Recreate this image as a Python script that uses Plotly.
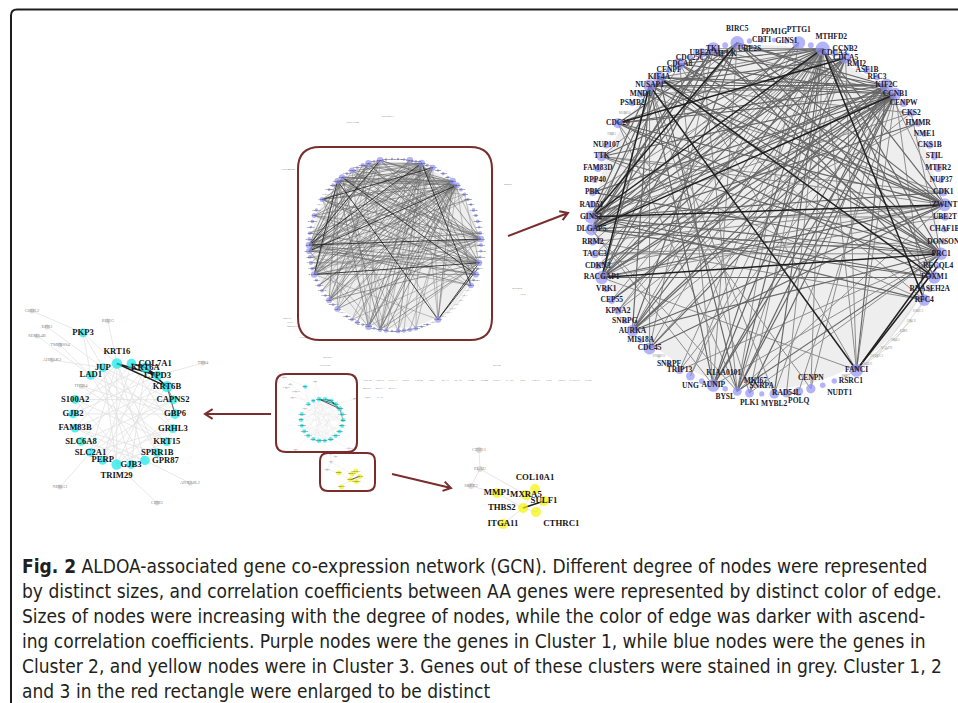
import math
import plotly.graph_objects as go

W, H = 958, 703

# ---------------------------------------------------------------- data
# Cluster 1 ring, clockwise starting at BIRC5
c1_genes = [
    "BIRC5", "UBE2S", "CDT1", "PPM1G", "GINS1", "PTTG1", "MTHFD2", "CCNB2", "CDCA3", "CDCA5",
    "RMI2", "ASF1B", "RFC3", "KIF2C", "CCNB1", "CENPW", "CKS2", "HMMR", "NME1", "CKS1B",
    "STIL", "MTFR2", "NUP37", "CDK1", "ZWINT", "UBE2T", "CHAF1B", "DONSON", "PRC1", "RECQL4",
    "FOXM1", "RNASEH2A", "RFC4", "DSCC1", "ORC6", "E2F8", "SKA1", "NCAPH", "DEPDC1", "ESCO2",
    "FANCI", "SKP2", "RSRC1", "NUDT1", "CENPN", "POLQ", "RAD54L", "MYBL2", "SNRPA", "PLK1",
    "MKI67", "BYSL", "AUNIP", "KIAA0101", "UNG", "TRIP13", "SNRPF", "SNRPD1", "CDC45", "MIS18A",
    "AURKA", "SNRPG", "KPNA2", "CEP55", "VRK1", "RACGAP1", "CDKN3", "TACC3", "RRM2", "DLGAP5",
    "GINS2", "RAD51", "PBK", "RPP40", "FAM83D", "TTK", "NUP107", "NEK2", "CDC20", "MCM10",
    "PSMB2", "MND1", "NUSAP1", "KIF4A", "CENPF", "CDCA8", "CDC25C", "UBE2C", "TK1", "MELK",
]
c1_degree = [
    32, 4, 4, 3, 4, 30, 6, 34, 10, 26,
    4, 10, 6, 32, 28, 12, 12, 10, 6, 12,
    10, 12, 6, 14, 30, 12, 8, 6, 28, 6,
    28, 6, 26, 1, 1, 1, 1, 1, 1, 1,
    30, 1, 5, 5, 18, 16, 16, 18, 4, 16,
    16, 5, 30, 6, 16, 12, 5, 1, 26, 6,
    26, 5, 12, 12, 8, 30, 12, 14, 12, 28,
    30, 12, 12, 6, 12, 20, 10, 1, 20, 1,
    6, 12, 28, 28, 6, 26, 6, 18, 30, 6,
]
# ring members that are not in Cluster 1
c1_outside = ["DSCC1", "ORC6", "E2F8", "SKA1", "NCAPH", "DEPDC1", "ESCO2",
              "SKP2", "SNRPD1", "NEK2", "MCM10"]
# (gene, gene, correlation coefficient)
c1_edges = [
    ("CCNB2", "GINS2", 0.82), ("CCNB2", "DLGAP5", 0.74), ("CCNB2", "RACGAP1", 0.72), ("CCNB2", "TACC3", 0.66),
    ("CCNB2", "CDKN3", 0.71), ("CCNB2", "AURKA", 0.73), ("CCNB2", "CDC45", 0.70), ("CCNB2", "KPNA2", 0.64),
    ("CCNB2", "CEP55", 0.70), ("CCNB2", "MKI67", 0.72), ("CCNB2", "AUNIP", 0.74), ("CCNB2", "TRIP13", 0.68),
    ("CCNB2", "FANCI", 0.71), ("CCNB2", "PLK1", 0.69), ("CCNB2", "PRC1", 0.76), ("CCNB2", "ZWINT", 0.73),
    ("CCNB2", "FOXM1", 0.74), ("CCNB2", "RFC4", 0.83), ("CCNB2", "NUSAP1", 0.72), ("CCNB2", "KIF4A", 0.71),
    ("CCNB2", "TK1", 0.70), ("CCNB2", "CDC20", 0.75), ("CCNB2", "TTK", 0.72), ("CCNB2", "PBK", 0.71),
    ("CCNB2", "RRM2", 0.69), ("CCNB2", "CENPN", 0.68), ("CCNB2", "RAD54L", 0.70), ("CCNB2", "UBE2C", 0.73),
    ("CCNB2", "CDCA8", 0.74), ("CCNB2", "MYBL2", 0.72), ("CCNB2", "UNG", 0.67),
    ("PTTG1", "GINS2", 0.71), ("PTTG1", "RACGAP1", 0.70), ("PTTG1", "MKI67", 0.69), ("PTTG1", "DLGAP5", 0.72),
    ("PTTG1", "AURKA", 0.70),
    ("BIRC5", "GINS2", 0.84), ("BIRC5", "DLGAP5", 0.73), ("BIRC5", "CDC20", 0.75), ("BIRC5", "AURKA", 0.72),
    ("BIRC5", "PRC1", 0.74), ("BIRC5", "ZWINT", 0.73), ("BIRC5", "CCNB1", 0.72), ("BIRC5", "KIF2C", 0.76),
    ("BIRC5", "AUNIP", 0.71), ("BIRC5", "TTK", 0.70), ("BIRC5", "RACGAP1", 0.72),
    ("TK1", "RACGAP1", 0.74), ("TK1", "PRC1", 0.72), ("TK1", "FOXM1", 0.73), ("TK1", "CDC45", 0.71),
    ("TK1", "CCNB1", 0.70), ("TK1", "DLGAP5", 0.75), ("TK1", "GINS2", 0.74),
    ("UBE2C", "ZWINT", 0.72), ("UBE2C", "DLGAP5", 0.73), ("UBE2C", "MKI67", 0.70), ("UBE2C", "KIF2C", 0.74),
    ("CDCA8", "ZWINT", 0.73), ("CDCA8", "PRC1", 0.72), ("CDCA8", "CCNB1", 0.74), ("CDCA8", "GINS2", 0.71),
    ("CDCA8", "AUNIP", 0.70), ("CDCA8", "FANCI", 0.69),
    ("KIF4A", "CCNB1", 0.76), ("KIF4A", "KIF2C", 0.77), ("KIF4A", "ZWINT", 0.74), ("KIF4A", "PRC1", 0.73),
    ("KIF4A", "RFC4", 0.71), ("KIF4A", "MKI67", 0.72), ("KIF4A", "RACGAP1", 0.74), ("KIF4A", "DLGAP5", 0.75),
    ("KIF4A", "FOXM1", 0.84),
    ("NUSAP1", "CDCA5", 0.72), ("NUSAP1", "KIF2C", 0.74), ("NUSAP1", "CCNB1", 0.73), ("NUSAP1", "ZWINT", 0.76),
    ("NUSAP1", "PRC1", 0.74), ("NUSAP1", "FANCI", 0.85), ("NUSAP1", "GINS2", 0.73), ("NUSAP1", "AURKA", 0.72),
    ("NUSAP1", "CDC45", 0.71), ("NUSAP1", "AUNIP", 0.73), ("NUSAP1", "RACGAP1", 0.83), ("NUSAP1", "PLK1", 0.70),
    ("NUSAP1", "CKS2", 0.70), ("NUSAP1", "MYBL2", 0.69),
    ("MND1", "CDK1", 0.69), ("MND1", "KIF2C", 0.70),
    ("CDC20", "ZWINT", 0.74), ("CDC20", "PRC1", 0.73), ("CDC20", "KIF2C", 0.75), ("CDC20", "CCNB1", 0.77),
    ("CDC20", "FOXM1", 0.72), ("CDC20", "MKI67", 0.70), ("CDC20", "CENPN", 0.69), ("CDC20", "CDCA5", 0.82),
    ("TTK", "CCNB1", 0.73), ("TTK", "PRC1", 0.72), ("TTK", "ZWINT", 0.71), ("TTK", "RFC4", 0.70),
    ("TTK", "CDK1", 0.71),
    ("GINS2", "ZWINT", 0.81), ("GINS2", "PRC1", 0.76), ("GINS2", "KIF2C", 0.75), ("GINS2", "CCNB1", 0.74),
    ("GINS2", "CDK1", 0.72), ("GINS2", "FOXM1", 0.73), ("GINS2", "RFC4", 0.72), ("GINS2", "CKS2", 0.71),
    ("DLGAP5", "ZWINT", 0.74), ("DLGAP5", "PRC1", 0.73), ("DLGAP5", "FOXM1", 0.75), ("DLGAP5", "CCNB1", 0.82),
    ("DLGAP5", "KIF2C", 0.74), ("DLGAP5", "MKI67", 0.71), ("DLGAP5", "AUNIP", 0.70), ("DLGAP5", "HMMR", 0.72),
    ("RACGAP1", "PRC1", 0.88), ("RACGAP1", "ZWINT", 0.75), ("RACGAP1", "CCNB1", 0.73), ("RACGAP1", "KIF2C", 0.74),
    ("RACGAP1", "FOXM1", 0.72), ("RACGAP1", "UBE2T", 0.71), ("RACGAP1", "FANCI", 0.70),
    ("TACC3", "PRC1", 0.71), ("TACC3", "DONSON", 0.69), ("CDKN3", "CCNB1", 0.72), ("CDKN3", "ZWINT", 0.71),
    ("RRM2", "ZWINT", 0.70), ("RRM2", "RFC4", 0.71), ("PBK", "CCNB1", 0.73), ("PBK", "PRC1", 0.72),
    ("CEP55", "KIF2C", 0.72), ("CEP55", "CCNB1", 0.73), ("KPNA2", "CCNB1", 0.70), ("KPNA2", "CDCA5", 0.69),
    ("AURKA", "CCNB1", 0.75), ("AURKA", "KIF2C", 0.74), ("AURKA", "ZWINT", 0.73), ("AURKA", "PRC1", 0.72),
    ("AURKA", "CDCA5", 0.74), ("AURKA", "CKS2", 0.71),
    ("CDC45", "CCNB1", 0.73), ("CDC45", "ZWINT", 0.72), ("CDC45", "KIF2C", 0.71),
    ("TRIP13", "CCNB1", 0.71), ("TRIP13", "PRC1", 0.70),
    ("AUNIP", "KIF2C", 0.73), ("AUNIP", "CCNB1", 0.72), ("AUNIP", "PRC1", 0.71), ("AUNIP", "CDCA5", 0.74),
    ("MKI67", "KIF2C", 0.72), ("MKI67", "CCNB1", 0.73), ("MKI67", "PRC1", 0.72), ("MKI67", "CDCA5", 0.71),
    ("MKI67", "ZWINT", 0.70),
    ("PLK1", "CCNB1", 0.72), ("PLK1", "PRC1", 0.71),
    ("FANCI", "PRC1", 0.86), ("FANCI", "RECQL4", 0.80), ("FANCI", "CCNB1", 0.71), ("FANCI", "KIF2C", 0.72),
    ("FANCI", "CDCA5", 0.70),
    ("CENPN", "KIF2C", 0.70), ("POLQ", "CCNB1", 0.69), ("UNG", "CDCA5", 0.70), ("MYBL2", "KIF2C", 0.69),
    ("CDCA5", "GINS2", 0.74), ("CDCA5", "DLGAP5", 0.73), ("CDCA5", "RACGAP1", 0.75),
    ("KIF2C", "ZWINT", 0.68), ("CCNB1", "RFC4", 0.70), ("CKS2", "PRC1", 0.69), ("HMMR", "RACGAP1", 0.70),
    ("UBE2T", "GINS2", 0.70),
    # weak links of the genes sitting outside Cluster 1 on the ring
    ("DSCC1", "RFC4", 0.5), ("ORC6", "FANCI", 0.5), ("E2F8", "FANCI", 0.5), ("SKA1", "RFC4", 0.5),
    ("NCAPH", "FANCI", 0.5), ("DEPDC1", "FOXM1", 0.5), ("ESCO2", "FANCI", 0.5), ("SKP2", "FANCI", 0.5),
]

# Cluster 2 ring, clockwise starting at KRT16
c2_genes = ["KRT16", "COL7A1", "KRT6A", "LYPD3", "KRT6B", "CAPNS2", "GBP6", "GRHL3", "KRT15", "SPRR1B",
            "GPR87", "GJB3", "TRIM29", "PERP", "SLC2A1", "SLC6A8", "FAM83B", "GJB2", "S100A2", "ITGB4",
            "LAD1", "JUP"]
c2_degree = [8, 7, 8, 7, 9, 6, 7, 6, 6, 6, 7, 6, 8, 6, 6, 6, 6, 6, 6, 2, 6, 6]
c2_outside = ["ITGB4"]
c2_satellites = ["PKP3", "GRHL2", "EPN3", "SEMA4B", "TMPRSS4", "AHNAK2", "RHCG", "TNS4", "NDRG1",
                 "CDH3", "ANXA8L2"]
c2_satellite_in_cluster = ["PKP3"]
c2_edges = [
    ("KRT16", "KRT6B", 0.90), ("KRT16", "LYPD3", 0.84), ("KRT6A", "KRT6B", 0.91), ("COL7A1", "KRT6A", 0.86),
    ("KRT6A", "LYPD3", 0.82), ("KRT6B", "GBP6", 0.74), ("KRT6B", "CAPNS2", 0.70),
    ("KRT16", "SLC2A1", 0.5), ("KRT16", "GJB2", 0.5), ("KRT16", "SPRR1B", 0.5), ("COL7A1", "PERP", 0.5),
    ("COL7A1", "FAM83B", 0.5), ("COL7A1", "GRHL3", 0.5), ("KRT6A", "SLC6A8", 0.5), ("KRT6A", "GJB3", 0.5),
    ("KRT6A", "S100A2", 0.5), ("LYPD3", "TRIM29", 0.5), ("LYPD3", "GJB2", 0.5), ("LYPD3", "SLC2A1", 0.5),
    ("KRT6B", "PERP", 0.5), ("KRT6B", "FAM83B", 0.5), ("CAPNS2", "S100A2", 0.5), ("CAPNS2", "SLC6A8", 0.5),
    ("CAPNS2", "JUP", 0.5), ("GBP6", "LAD1", 0.5), ("GBP6", "TRIM29", 0.5), ("GBP6", "GJB2", 0.5),
    ("GRHL3", "JUP", 0.5), ("GRHL3", "SLC2A1", 0.5), ("KRT15", "LAD1", 0.5), ("KRT15", "S100A2", 0.5),
    ("KRT15", "TRIM29", 0.5), ("SPRR1B", "JUP", 0.5), ("SPRR1B", "FAM83B", 0.5), ("GPR87", "LAD1", 0.5),
    ("GPR87", "KRT16", 0.5), ("GPR87", "SLC6A8", 0.5), ("GJB3", "JUP", 0.5), ("GJB3", "S100A2", 0.5),
    ("TRIM29", "JUP", 0.5), ("PERP", "GRHL3", 0.5), ("SLC2A1", "CAPNS2", 0.5), ("ITGB4", "KRT15", 0.5),
    ("ITGB4", "GBP6", 0.5), ("FAM83B", "GPR87", 0.5), ("TRIM29", "KRT16", 0.5), ("PERP", "KRT6A", 0.5),
    ("PKP3", "JUP", 0.5), ("PKP3", "LAD1", 0.5), ("PKP3", "KRT16", 0.5), ("GRHL2", "PKP3", 0.5),
    ("EPN3", "JUP", 0.5), ("SEMA4B", "LAD1", 0.5), ("TMPRSS4", "LAD1", 0.5), ("AHNAK2", "JUP", 0.5),
    ("RHCG", "KRT16", 0.5), ("TNS4", "LYPD3", 0.5), ("NDRG1", "SLC2A1", 0.5), ("CDH3", "TRIM29", 0.5),
    ("ANXA8L2", "GPR87", 0.5),
]

# Cluster 3
c3_genes = ["COL10A1", "MMP1", "MXRA5", "SULF1", "THBS2", "CTHRC1", "ITGA11"]
c3_outside = ["CDH11", "PLAU", "SRPX2"]
c3_edges = [
    ("THBS2", "SULF1", 0.88), ("THBS2", "COL10A1", 0.5), ("THBS2", "CTHRC1", 0.55), ("SULF1", "COL10A1", 0.5),
    ("SULF1", "CTHRC1", 0.5), ("MXRA5", "SULF1", 0.55), ("MMP1", "THBS2", 0.45), ("ITGA11", "THBS2", 0.45),
    ("CDH11", "PLAU", 0.45), ("PLAU", "SRPX2", 0.45), ("PLAU", "MXRA5", 0.45), ("SRPX2", "MMP1", 0.45),
]

# genes in the small disconnected components around the overview
other_genes_scattered = ["SNORD3A", "HIST1H4C", "LINC00152", "MIR21", "RNU4-2", "H19", "KRT19", "TFF1",
                         "MUC5AC", "LCN2", "SPINK1", "CLDN18", "RPL41"]
other_genes_row1 = ["ADH1B", "ADH1C", "CLCA1", "GKN1", "GKN2", "PGC", "PGA3", "PGA5", "ATP4A", "ATP4B",
                    "CHGA", "GAST", "SST", "CBLIF", "LIPF", "VSIG1", "CXCL17", "TFF2"]
other_genes_row2 = ["MUC6", "REG1A", "REG3A"]
other_genes_row3 = ["AQP5", "CA9"]

caption_lines = [
    "<b>Fig. 2</b> ALDOA-associated gene co-expression network (GCN). Different degree of nodes were represented",
    "by distinct sizes, and correlation coefficients between AA genes were represented by distinct color of edge.",
    "Sizes of nodes were increasing with the degree of nodes, while the color of edge was darker with ascend-",
    "ing correlation coefficients. Purple nodes were the genes in Cluster 1, while blue nodes were the genes in",
    "Cluster 2, and yellow nodes were in Cluster 3. Genes out of these clusters were stained in grey. Cluster 1, 2",
    "and 3 in the red rectangle were enlarged to be distinct",
]

# ---------------------------------------------------------------- layout / style
PURPLE = "#9393f6"
CYAN = "#10e8ea"
YELLOW = "#f4f400"
GREYNODE = "#cdcdcd"
FRAME = "#7a2d2d"
LABEL_FONT = "Liberation Serif"

C1_BIG = dict(cx=768, cy=217, r=177, start=-100)
C1_MINI = dict(cx=395, cy=245, r=86, start=-100)
C2_BIG = dict(cx=124, cy=414, r=51, start=-98)
C2_MINI = dict(cx=322, cy=420, r=21, start=-98)
# satellite offsets (px, at the enlarged scale) from the Cluster 2 ring centre
C2_SAT = {"PKP3": (-41, -81), "GRHL2": (-92, -103), "EPN3": (-77, -87), "SEMA4B": (-87, -78),
          "TMPRSS4": (-64, -69), "AHNAK2": (-72, -54), "RHCG": (-16, -93), "TNS4": (79, -51),
          "NDRG1": (-64, 73), "CDH3": (33, 89), "ANXA8L2": (66, 69)}
# Cluster 3 node offsets (px, at the enlarged scale) from its anchor
C3_OFF = {"COL10A1": (13, -11), "MMP1": (-25, -7), "MXRA5": (4, -5), "SULF1": (22, 1), "THBS2": (1, 8),
          "CTHRC1": (14, 12), "ITGA11": (-19, 24), "CDH11": (-43, -50), "PLAU": (-42, -31), "SRPX2": (-51, -14)}
C3_BIG = dict(ax=522, ay=500, s=1.0)
C3_MINI = dict(ax=350, ay=476, s=0.45)


def ring(names, cx, cy, r, start):
    n = len(names)
    pos = {}
    for i, g in enumerate(names):
        a = math.radians(start + 360.0 * i / n)
        pos[g] = (cx + r * math.cos(a), cy + r * math.sin(a))
    return pos


def edge_traces(edges, pos, scale=1.0, faint="#e0e0e0"):
    tiers = [(0.80, "#202020", 1.5), (0.72, "#666666", 1.15), (0.60, "#8e8e8e", 1.0), (0.0, faint, 0.8)]
    out = []
    for k, (lo, col, w) in enumerate(tiers):
        hi = tiers[k - 1][0] if k else 9
        xs, ys = [], []
        for a, b, c in edges:
            if lo <= c < hi:
                xs += [pos[a][0], pos[b][0], None]
                ys += [pos[a][1], pos[b][1], None]
        if xs:
            out.append(go.Scatter(x=xs, y=ys, mode="lines", line=dict(color=col, width=w * scale),
                                  hoverinfo="skip", showlegend=False))
    return out[::-1]


def nodes(names, pos, sizes, color, fsize, fcolor, tpos=None, bold=True):
    return go.Scatter(
        x=[pos[g][0] for g in names], y=[pos[g][1] for g in names],
        mode="markers+text", text=names,
        textposition=[(tpos or {}).get(g, "middle center") for g in names],
        textfont=dict(family=LABEL_FONT, size=fsize, color=fcolor, weight="bold" if bold else "normal"),
        marker=dict(size=sizes, color=color, line=dict(width=0)),
        hoverinfo="text", showlegend=False, cliponaxis=False)


fig = go.Figure()
shapes = []

# ---------- Cluster 1 (enlarged and overview)
deg1 = dict(zip(c1_genes, c1_degree))
in1 = [g for g in c1_genes if g not in c1_outside]
out1 = [g for g in c1_genes if g in c1_outside]
tpos1 = {"BIRC5": "top center", "PTTG1": "top center", "MTHFD2": "top right", "CCNB2": "middle right",
         "UBE2S": "bottom center", "PPM1G": "top center", "GINS1": "middle center",
         "CENPN": "top center", "SNRPA": "top center", "MYBL2": "bottom center", "POLQ": "bottom center",
         "PLK1": "bottom center", "BYSL": "bottom center", "NUDT1": "bottom right", "RSRC1": "middle right",
         "MKI67": "top right", "KIAA0101": "top right", "UNG": "bottom center", "MELK": "bottom center"}
for L, big in ((C1_BIG, True), (C1_MINI, False)):
    p = ring(c1_genes, L["cx"], L["cy"], L["r"], L["start"])
    shapes.append(dict(type="circle", xref="x", yref="y", layer="below",
                       x0=L["cx"] - L["r"] * 0.97, x1=L["cx"] + L["r"] * 0.97,
                       y0=L["cy"] - L["r"] * 0.97, y1=L["cy"] + L["r"] * 0.97,
                       fillcolor="#eeeeee", line=dict(width=0)))
    for t in edge_traces(c1_edges, p, 1.0 if big else 0.55, faint="#d4d4d4"):
        fig.add_trace(t)
    k = 1.0 if big else 0.5
    fig.add_trace(nodes(out1, p, [(3 + 0.3 * deg1[g]) * k for g in out1], GREYNODE,
                        3.5 if big else 2, "#9a9a9a", bold=False))
    fig.add_trace(nodes(in1, p, [(4 + 0.3 * deg1[g]) * k for g in in1], PURPLE,
                        7.5 if big else 2.4, "#202030" if big else "#444", tpos1 if big else None))

# ---------- Cluster 2 (enlarged and overview)
deg2 = dict(zip(c2_genes, c2_degree))
in2 = [g for g in c2_genes if g not in c2_outside]
tpos2 = {"KRT16": "top center", "COL7A1": "middle right", "TRIM29": "bottom center", "GPR87": "middle right"}
for L, big in ((C2_BIG, True), (C2_MINI, False)):
    p = ring(c2_genes, L["cx"], L["cy"], L["r"], L["start"])
    f = L["r"] / C2_BIG["r"]
    for g, (dx, dy) in C2_SAT.items():
        p[g] = (L["cx"] + dx * f, L["cy"] + dy * f)
    for t in edge_traces(c2_edges, p, 1.0 if big else 0.5, faint="#e2e2e2" if big else "#e8e8e8"):
        fig.add_trace(t)
    greys = c2_outside + [g for g in c2_satellites if g not in c2_satellite_in_cluster]
    k = 1.0 if big else 0.45
    fig.add_trace(nodes(greys, p, [5 * k] * len(greys), GREYNODE, 4.5 if big else 1.8, "#8a8a8a", bold=False))
    cy_nodes = in2 + c2_satellite_in_cluster
    fig.add_trace(nodes(cy_nodes, p, [(4 + 0.8 * deg2.get(g, 6)) * k for g in cy_nodes], CYAN,
                        8.6 if big else 2, "#151515" if big else "#444", tpos2 if big else None))

# ---------- Cluster 3 (enlarged and overview)
tpos3 = {"COL10A1": "top center", "THBS2": "middle left", "CTHRC1": "bottom right"}
for L, big in ((C3_BIG, True), (C3_MINI, False)):
    p = {g: (L["ax"] + dx * L["s"], L["ay"] + dy * L["s"]) for g, (dx, dy) in C3_OFF.items()}
    for t in edge_traces(c3_edges, p, 1.0 if big else 0.5):
        fig.add_trace(t)
    k = 1.0 if big else 0.5
    fig.add_trace(nodes(c3_outside, p, [6 * k] * 3, GREYNODE, 4.5 if big else 1.8, "#8a8a8a", bold=False))
    fig.add_trace(nodes(c3_genes, p, [10 * k] * len(c3_genes), YELLOW,
                        8.8 if big else 2, "#151515" if big else "#444", tpos3 if big else None))

# ---------- small disconnected components around the overview
SCATTER_POS = [(388, 116), (353, 122), (288, 169), (508, 184), (517, 288), (523, 294), (287, 318),
               (290, 322), (293, 326), (303, 337), (328, 357), (325, 365), (497, 365)]
sx = [q[0] for q in SCATTER_POS]
sy = [q[1] for q in SCATTER_POS]
rx = [367 + 13 * i for i in range(len(other_genes_row1))]
fig.add_trace(go.Scatter(
    x=sx + rx + [367 + 13 * i for i in range(3)] + [367 + 13 * i for i in range(2)],
    y=sy + [380] * len(rx) + [388] * 3 + [397] * 2,
    mode="text", text=other_genes_scattered + other_genes_row1 + other_genes_row2 + other_genes_row3,
    textfont=dict(family=LABEL_FONT, size=2.8, color="#6a6a6a"), hoverinfo="text", showlegend=False))

# ---------- frames and arrows
def rrect(x0, y0, x1, y1, r):
    return (f"M {x0 + r} {y0} L {x1 - r} {y0} Q {x1} {y0} {x1} {y0 + r} L {x1} {y1 - r} "
            f"Q {x1} {y1} {x1 - r} {y1} L {x0 + r} {y1} Q {x0} {y1} {x0} {y1 - r} "
            f"L {x0} {y0 + r} Q {x0} {y0} {x0 + r} {y0} Z")


def arrow(x0, y0, x1, y1, wing=9, spread=32):
    a = math.atan2(y0 - y1, x0 - x1)
    w1 = (x1 + wing * math.cos(a + math.radians(spread)), y1 + wing * math.sin(a + math.radians(spread)))
    w2 = (x1 + wing * math.cos(a - math.radians(spread)), y1 + wing * math.sin(a - math.radians(spread)))
    return f"M {x0} {y0} L {x1} {y1} M {w1[0]:.1f} {w1[1]:.1f} L {x1} {y1} L {w2[0]:.1f} {w2[1]:.1f}"


for (x0, y0, x1, y1, r) in [(298, 147, 492, 340, 22), (276, 374, 357, 452, 10), (320, 453, 375, 491, 8)]:
    shapes.append(dict(type="path", xref="x", yref="y", path=rrect(x0, y0, x1, y1, r),
                       line=dict(color=FRAME, width=2)))
for (x0, y0, x1, y1) in [(508, 236, 568, 213), (271, 414, 205, 414), (392, 474, 451, 488)]:
    shapes.append(dict(type="path", xref="x", yref="y", path=arrow(x0, y0, x1, y1),
                       line=dict(color=FRAME, width=2)))

# panel border (top rule and left rule)
shapes.append(dict(type="path", xref="x", yref="y", path="M 958 9.5 L 17 9.5 Q 11 9.5 11 15.5 L 11 703",
                   line=dict(color="#1e1e1e", width=2)))

annotations = []
for i, line in enumerate(caption_lines):
    annotations.append(dict(x=20, y=566 + 25 * i, xref="x", yref="y", xanchor="left", yanchor="middle",
                            text=line, showarrow=False,
                            font=dict(family="Liberation Sans Narrow, DejaVu Sans Condensed, sans-serif",
                                      size=19, color="#231f20")))

fig.update_layout(
    width=W, height=H, margin=dict(l=0, r=0, t=0, b=0),
    paper_bgcolor="white", plot_bgcolor="white",
    xaxis=dict(range=[0, W], visible=False, fixedrange=True),
    yaxis=dict(range=[H, 0], visible=False, fixedrange=True),
    shapes=shapes, annotations=annotations, showlegend=False,
)
fig.write_html("out.html")
